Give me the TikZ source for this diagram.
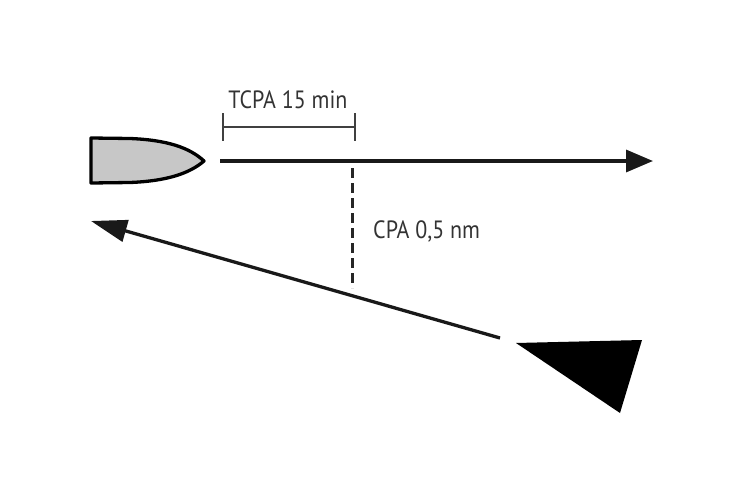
\documentclass[tikz,border=0pt]{standalone}
\usepackage{fontspec}
\setmainfont{PT Sans}[FakeStretch=0.88]
\usepackage{tikz}
\usetikzlibrary{arrows.meta}

\begin{document}
\begin{tikzpicture}[x=1pt,y=-1pt,
  course/.style={line width=3.3pt, black!90},
  lbl/.style={font=\fontsize{25}{25}\selectfont, text=black!80, inner sep=0pt}]
  \useasboundingbox (0,0) rectangle (736,479);

  % own ship
  \fill[black!22] (91,138) -- (130,138.5) .. controls (168,140) and (190,148) .. (204,161)
    .. controls (190,173) and (168,181) .. (130,182.5) -- (91,183) -- cycle;
  \draw[line width=3.3pt, line join=round] (91,138) -- (130,138.5) .. controls (168,140) and (190,148) .. (204,161)
    .. controls (190,173) and (168,181) .. (130,182.5) -- (91,183) -- cycle;

  \coordinate (own start) at (220,161);
  \coordinate (own end) at (653,161);
  \draw[course, -{Triangle[length=27pt,width=22pt]}] (own start) -- (own end);

  % TCPA bracket
  \coordinate (t0) at (223,127);
  \coordinate (t1) at (355,127);
  \draw[line width=1.7pt, black!75] (t0) -- (t1);
  \draw[line width=1.7pt, black!75] (223,113) -- (223,141);
  \draw[line width=1.7pt, black!75] (355,113) -- (355,141);
  \node[lbl, anchor=base] (tcpa) at (288,108) {TCPA 15 min};

  % CPA
  \coordinate (cpa top) at (352,168);
  \coordinate (cpa bot) at (352,288);
  \draw[line width=3pt, black!85, dash pattern=on 10pt off 5pt] (cpa top) -- (cpa bot);
  \node[lbl, anchor=base west] (cpa) at (373,238) {CPA 0,5 nm};

  % other ship
  \coordinate (other start) at (500,338);
  \coordinate (other end) at (91,221);
  \draw[course, -{Triangle[length=36pt,width=22pt]}] (other start) -- (other end);
  \fill[black] (516,343) -- (642,340) -- (620,413) -- cycle;
\end{tikzpicture}
\end{document}
